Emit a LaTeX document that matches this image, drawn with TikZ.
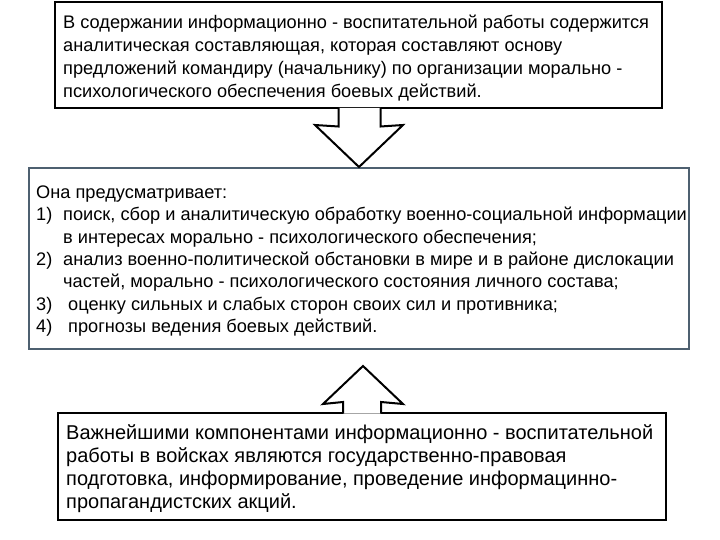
\documentclass[tikz,border=0pt]{standalone}
\usepackage{fontspec}
\setmainfont{Liberation Sans}
\usetikzlibrary{positioning, calc}

\definecolor{slateframe}{HTML}{4E6070}

\tikzset{
    infobox/.style={draw, line width=2pt, inner sep=0pt},
    infotext/.style={align=left, inner sep=0pt, yshift=-2.5pt},
    blockarrow/.style={draw=black, fill=white, line width=2pt, line join=miter}
}

\begin{document}
\begin{tikzpicture}[x=1pt, y=-1pt]
    \useasboundingbox (0,0) rectangle (720,540);

    % Boxes
    \node[infobox, minimum width=607pt, minimum height=106pt] (top) at (358.5,55.5) {};
    \node[infotext, right=9pt of top.west, font=\fontsize{18.2}{23}\selectfont] (toptext)
        {В содержании информационно - воспитательной работы содержится\\
         аналитическая составляющая, которая составляют основу\\
         предложений командиру (начальнику) по организации морально -\\
         психологического обеспечения боевых действий.};

    \node[infobox, draw=slateframe, minimum width=660pt, minimum height=181pt] (mid) at (359,258.5) {};
    \node[infotext, right=8pt of mid.west, font=\fontsize{18.2}{22.3}\selectfont] (midtext)
        {Она предусматривает:\\
         \makebox[27pt][l]{1)}поиск, сбор и аналитическую обработку военно-социальной информации\\
         \hspace*{27pt}в интересах морально - психологического обеспечения;\\
         \makebox[27pt][l]{2)}анализ военно-политической обстановки в мире и в районе дислокации\\
         \hspace*{27pt}частей, морально - психологического состояния личного состава;\\
         \makebox[27pt][l]{3)}\hspace*{5pt}оценку сильных и слабых сторон своих сил и противника;\\
         \makebox[27pt][l]{4)}\hspace*{5pt}прогнозы ведения боевых действий.};

    \node[infobox, minimum width=608pt, minimum height=107pt] (bot) at (362,466.5) {};
    \node[infotext, right=9pt of bot.west, font=\fontsize{20}{23}\selectfont] (bottext)
        {Важнейшими компонентами информационно - воспитательной\\
         работы в войсках являются государственно-правовая\\
         подготовка, информирование, проведение информацинно-\\
         пропагандистских акций.};

    % Block arrows
    \filldraw[blockarrow] ($(top.south)+(-20,-1.5)$) -- ($(top.south)+(-20,17)$)
        -- ($(mid.north)+(-44,-42)$) -- (mid.north) -- ($(mid.north)+(44,-42)$)
        -- ($(top.south)+(22,17)$) -- ($(top.south)+(22,-1.5)$);

    \coordinate (uptip) at ($(mid.south)+(4,16)$);
    \filldraw[blockarrow] ($(bot.north)+(-19,1.5)$) -- ($(bot.north)+(-19,-10)$)
        -- ($(uptip)+(-40,38)$) -- (uptip) -- ($(uptip)+(40,38)$)
        -- ($(bot.north)+(19,-10)$) -- ($(bot.north)+(19,1.5)$);
\end{tikzpicture}
\end{document}
